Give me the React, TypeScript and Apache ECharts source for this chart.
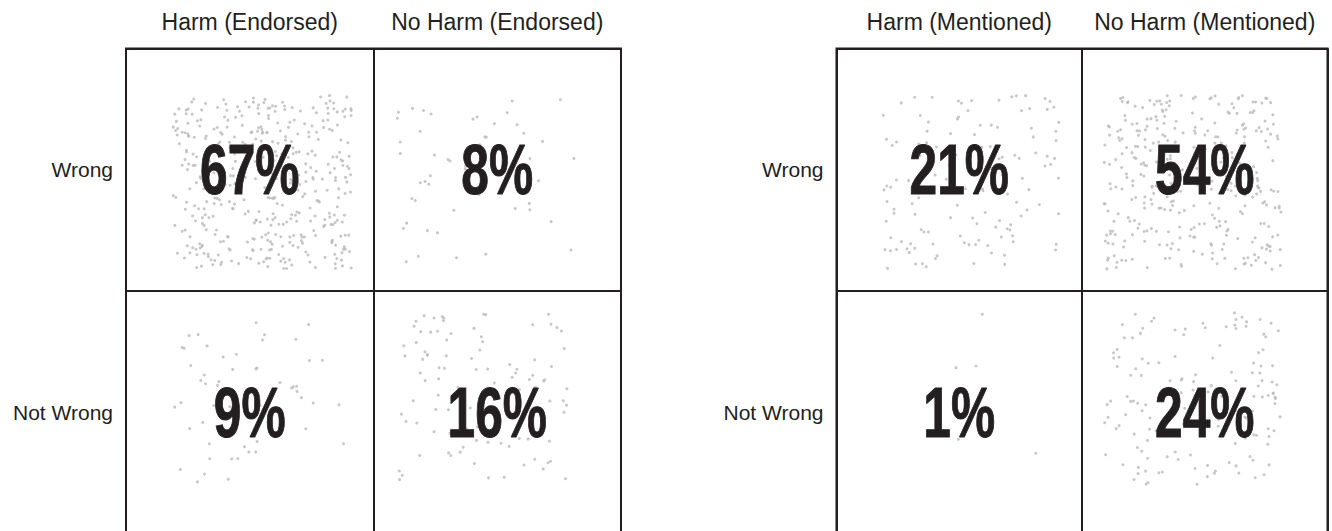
import React, { useEffect, useRef } from "react";
import * as echarts from "echarts";

// ---- data (cell order: [Harm/Wrong, NoHarm/Wrong, Harm/NotWrong, NoHarm/NotWrong]) ----
const endorsedColumns = ["Harm (Endorsed)", "No Harm (Endorsed)"];
const mentionedColumns = ["Harm (Mentioned)", "No Harm (Mentioned)"];
const rowLabels = ["Not Wrong", "Wrong"]; // bottom to top
const endorsedPercents = [67, 8, 9, 16];
const mentionedPercents = [21, 54, 1, 24];
// estimated number of respondents (dots) in each cell
const endorsedCounts = [415, 50, 56, 99];
const mentionedCounts = [130, 335, 6, 149];

const INK = "#231f20";
const DOT = "#b9b9b9";
const FONT = "'Liberation Sans', Arial, sans-serif";

// deterministic jitter generator
function makeRng(seed: number) {
  let a = seed >>> 0;
  return () => {
    a = (a + 0x6d2b79f5) >>> 0;
    let t = a;
    t = Math.imul(t ^ (t >>> 15), t | 1);
    t ^= t + Math.imul(t ^ (t >>> 7), t | 61);
    return ((t ^ (t >>> 14)) >>> 0) / 4294967296;
  };
}

// cell i -> column / row (row 1 = Wrong, row 0 = Not Wrong)
const cellCol = (i: number) => i % 2;
const cellRow = (i: number) => (i < 2 ? 1 : 0);

function jitterPoints(counts: number[], seed: number) {
  const rng = makeRng(seed);
  const pts: number[][] = [];
  counts.forEach((n, i) => {
    const cx = cellCol(i) === 0 ? 0.55 : 1.45;
    const cy = cellRow(i) === 1 ? 1.45 : 0.55;
    for (let k = 0; k < n; k++) {
      pts.push([cx + (rng() - 0.5) * 0.72, cy + (rng() - 0.5) * 0.72]);
    }
  });
  return pts;
}

function labelData(percents: number[]) {
  return percents.map((p, i) => [cellCol(i) + 0.5, cellRow(i) + 0.5, p]);
}

export default function App() {
  const ref = useRef<HTMLDivElement>(null);

  useEffect(() => {
    document.body.style.margin = "0";
    if (!ref.current) return;
    const chart = echarts.init(ref.current, undefined, { renderer: "svg" });

    const grids = [
      { left: 126, top: 48.5, width: 495, height: 485 },
      { left: 836.5, top: 48.5, width: 491, height: 485 },
    ];
    const cols = [endorsedColumns, mentionedColumns];
    const pcts = [endorsedPercents, mentionedPercents];
    const cnts = [endorsedCounts, mentionedCounts];

    const xAxis: any[] = [];
    const yAxis: any[] = [];
    const series: any[] = [];

    grids.forEach((_, g) => {
      xAxis.push({
        gridIndex: g,
        type: "value",
        position: "bottom",
        min: 0,
        max: 2,
        interval: 1,
        axisLine: { show: false },
        axisTick: { show: false },
        axisLabel: { show: false },
        splitLine: { show: true, lineStyle: { color: INK, width: 2 } },
      });
      xAxis.push({
        gridIndex: g,
        type: "category",
        position: "top",
        data: cols[g],
        axisLine: { show: false },
        axisTick: { show: false },
        splitLine: { show: false },
        axisLabel: {
          interval: 0,
          hideOverlap: false,
          margin: 15,
          fontSize: 23,
          color: INK,
          fontFamily: FONT,
        },
      });
      yAxis.push({
        gridIndex: g,
        type: "value",
        position: "right",
        min: 0,
        max: 2,
        interval: 1,
        axisLine: { show: false },
        axisTick: { show: false },
        axisLabel: { show: false },
        splitLine: { show: true, lineStyle: { color: INK, width: 2 } },
      });
      yAxis.push({
        gridIndex: g,
        type: "category",
        position: "left",
        data: rowLabels,
        axisLine: { show: false },
        axisTick: { show: false },
        splitLine: { show: false },
        axisLabel: {
          interval: 0,
          margin: 13,
          fontSize: 21,
          color: INK,
          fontFamily: FONT,
        },
      });

      series.push({
        type: "scatter",
        xAxisIndex: g * 2,
        yAxisIndex: g * 2,
        data: jitterPoints(cnts[g], 17 + g * 101),
        symbol: "circle",
        symbolSize: 3,
        itemStyle: { color: DOT },
        silent: true,
        z: 2,
      });
      series.push({
        type: "custom",
        xAxisIndex: g * 2,
        yAxisIndex: g * 2,
        data: labelData(pcts[g]),
        z: 5,
        silent: true,
        renderItem: (params: any, api: any) => {
          const p = api.coord([api.value(0), api.value(1)]);
          return {
            type: "text",
            x: p[0],
            y: p[1],
            scaleX: 0.7,
            style: {
              text: api.value(2) + "%",
              x: 0,
              y: 0,
              align: "center",
              verticalAlign: "middle",
              fontSize: 71,
              fontWeight: "bold",
              fontFamily: FONT,
              fill: INK,
              stroke: INK,
              lineWidth: 1,
            },
          };
        },
      });
    });

    chart.setOption({
      animation: false,
      backgroundColor: "#ffffff",
      grid: grids.map((gr) => ({
        ...gr,
        show: true,
        outerBoundsMode: "none",
        containLabel: false,
        borderColor: INK,
        borderWidth: 2,
        backgroundColor: "transparent",
      })),
      xAxis,
      yAxis,
      series,
    });

    return () => chart.dispose();
  }, []);

  return <div ref={ref} style={{ width: 1332, height: 531 }} />;
}
